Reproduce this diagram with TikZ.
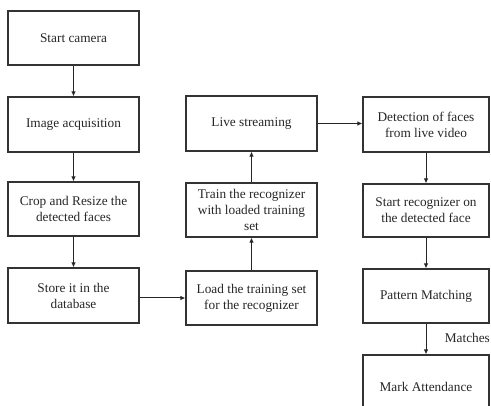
\documentclass[tikz,border=0pt]{standalone}
\usepackage{fontspec}
\setmainfont{Liberation Serif}
\usetikzlibrary{arrows.meta}
\begin{document}
\begin{tikzpicture}[x=1pt,y=-1pt,
  flowbox/.style={draw=black!80, line width=1.1pt, rectangle, align=center,
    font=\fontsize{13.3}{16}\selectfont, text=black!85, inner sep=2pt},
  leftbox/.style={flowbox, minimum width=131pt},
  midbox/.style={flowbox, minimum width=131pt},
  rightbox/.style={flowbox, minimum width=126pt},
  flowarrow/.style={draw=black!85, line width=1pt, -{Latex[length=5pt,width=4.5pt]}}]
\clip (0,0) rectangle (491,406);
% left column
\node[leftbox, minimum height=54pt] (cam) at (73.5,38) {Start camera};
\node[leftbox, minimum height=55pt] (acq) at (73.5,124.5) {Image acquisition};
\node[leftbox, minimum height=54pt] (crop) at (73.5,209) {Crop and Resize the\\detected faces};
\node[leftbox, minimum height=55pt] (store) at (73.5,295.5) {Store it in the\\database};
% middle column
\node[midbox, minimum height=55pt] (live) at (251.5,123.5) {Live streaming};
\node[midbox, minimum height=54pt] (train) at (251.5,210) {Train the recognizer\\with loaded training\\set};
\node[midbox, minimum height=54pt] (load) at (251.5,298) {Load the training set\\for the recognizer};
% right column
\node[rightbox, minimum height=55pt] (det) at (426,124.5) {Detection of faces\\from live video};
\node[rightbox, minimum height=53pt] (rec) at (426,210.5) {Start recognizer on\\the detected face};
\node[rightbox, minimum height=54pt] (pat) at (426,296) {Pattern Matching};
\node[rightbox, minimum height=64pt] (mark) at (426,387) {Mark Attendance};
% connectors
\draw[flowarrow] (cam) -- (acq);
\draw[flowarrow] (acq) -- (crop);
\draw[flowarrow] (crop) -- (store);
\draw[flowarrow] (store.east |- load.west) -- (load.west);
\draw[flowarrow] (load) -- (train);
\draw[flowarrow] (train) -- (live);
\draw[flowarrow] (live) -- (live -| det.west);
\draw[flowarrow] (det) -- (rec);
\draw[flowarrow] (rec) -- (pat);
\draw[flowarrow] (pat) -- node[right, font=\fontsize{13.3}{16}\selectfont, text=black!85, xshift=15pt, yshift=1pt] {Matches} (mark);
\end{tikzpicture}
\end{document}
